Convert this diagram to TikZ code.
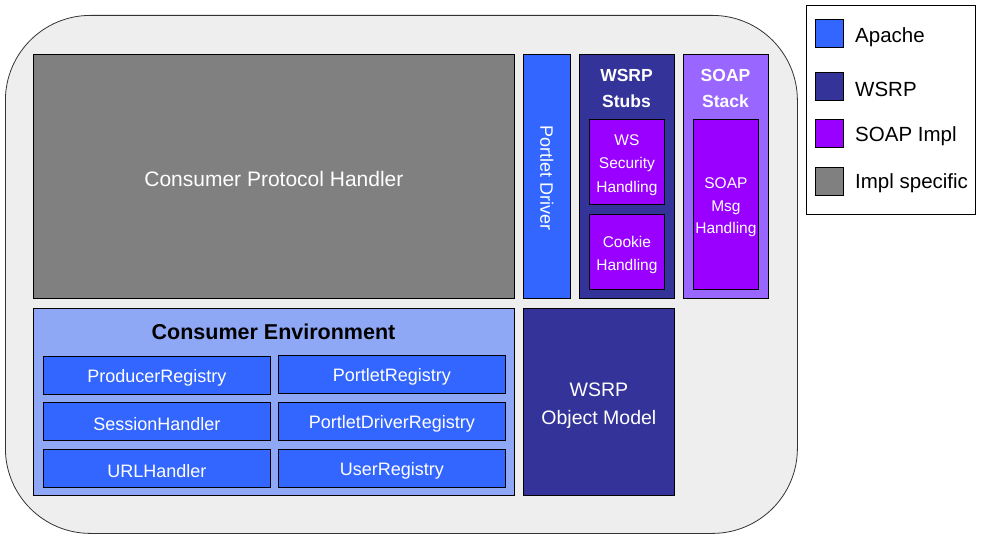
\documentclass[tikz,border=0pt]{standalone}
\usepackage{fontspec}
\setmainfont{Liberation Sans}
\definecolor{apache}{HTML}{3366FF}
\definecolor{wsrp}{HTML}{333399}
\definecolor{soapimpl}{HTML}{9900FF}
\definecolor{soapstack}{HTML}{9966FF}
\definecolor{impl}{HTML}{808080}
\definecolor{envc}{HTML}{8FA8F5}
\definecolor{bgc}{HTML}{EEEEEE}
\begin{document}
\begin{tikzpicture}[x=1pt,y=-1pt,
  box/.style={draw=black, line width=0.8pt, anchor=north west, inner sep=0pt},
  wtext/.style={text=white, align=center, inner sep=0pt},
  lbl/.style={font=\fontsize{20.5}{24}\selectfont, anchor=west, inner sep=0pt}]
\useasboundingbox (0,0) rectangle (982,540);
% outer container
\node[draw=black!80, fill=bgc, line width=0.8pt, rounded corners=85pt, minimum width=792pt, minimum height=518pt, anchor=north west, inner sep=0pt] (outer) at (5,15) {};
% Consumer Protocol Handler
\node[box, fill=impl, minimum width=481pt, minimum height=244pt] (cph) at (33,54) {};
\node[wtext, font=\fontsize{21}{25}\selectfont, yshift=-3pt] (cphl) at (cph.center) {Consumer Protocol Handler};
% Portlet Driver
\node[box, fill=apache, minimum width=47pt, minimum height=244pt] (pd) at (523,54) {};
\node[wtext, rotate=-90, font=\fontsize{18}{21}\selectfont, xshift=2pt] (pdl) at (pd.center) {Portlet Driver};
% WSRP Stubs
\node[box, fill=wsrp, minimum width=95pt, minimum height=244pt] (stubs) at (579,54) {};
\node[wtext, font=\bfseries\fontsize{17.5}{26}\selectfont] (stubsl) at (626.5,88) {WSRP\\Stubs};
\node[box, fill=soapimpl, minimum width=75pt, minimum height=85pt] (wss) at (589,119) {};
\node[wtext, font=\fontsize{15.5}{23.5}\selectfont, yshift=-3pt] (wssl) at (wss.center) {WS\\Security\\Handling};
\node[box, fill=soapimpl, minimum width=75pt, minimum height=75pt] (cookie) at (589,214) {};
\node[wtext, font=\fontsize{15.5}{23}\selectfont, yshift=-3pt] (cookiel) at (cookie.center) {Cookie\\Handling};
% SOAP Stack
\node[box, fill=soapstack, minimum width=85pt, minimum height=244pt] (soap) at (683,54) {};
\node[wtext, font=\bfseries\fontsize{17.5}{26}\selectfont] (soapl) at (725.5,88) {SOAP\\Stack};
\node[box, fill=soapimpl, minimum width=65pt, minimum height=170pt] (msg) at (693,119) {};
\node[wtext, font=\fontsize{15.5}{22.5}\selectfont, yshift=-3pt] (msgl) at (msg.center) {SOAP\\Msg\\Handling};
% Consumer Environment
\node[box, fill=envc, minimum width=481pt, minimum height=187pt] (env) at (33,308) {};
\node[inner sep=0pt, font=\bfseries\fontsize{21.5}{25}\selectfont] (envl) at (273.5,332) {Consumer Environment};
\tikzset{ebox/.style={box, fill=apache, minimum width=227pt, minimum height=38pt},
  etext/.style={wtext, font=\fontsize{18}{21}\selectfont, yshift=-2.5pt}}
\node[ebox] (prodreg) at (43,356) {};
\node[etext] (prodregl) at (prodreg.center) {ProducerRegistry};
\node[ebox] (sessh) at (43,402) {};
\node[etext] (sesshl) at (sessh.center) {SessionHandler};
\node[ebox] (urlh) at (43,449) {};
\node[etext] (urlhl) at (urlh.center) {URLHandler};
\node[ebox] (portreg) at (278,355) {};
\node[etext] (portregl) at (portreg.center) {PortletRegistry};
\node[ebox] (pdreg) at (278,402) {};
\node[etext] (pdregl) at (pdreg.center) {PortletDriverRegistry};
\node[ebox] (userreg) at (278,449) {};
\node[etext] (userregl) at (userreg.center) {UserRegistry};
% WSRP Object Model
\node[box, fill=wsrp, minimum width=151pt, minimum height=187pt] (om) at (523,308) {};
\node[wtext, font=\fontsize{19.5}{28}\selectfont, yshift=-4pt] (oml) at (om.center) {WSRP\\Object Model};
% Legend
\node[draw=black, fill=white, line width=0.8pt, minimum width=169pt, minimum height=209pt, anchor=north west, inner sep=0pt] (legend) at (806,5) {};
\tikzset{sw/.style={draw=black, line width=0.8pt, minimum width=28pt, minimum height=28pt, anchor=north west, inner sep=0pt}}
\node[sw, fill=apache] (s1) at (815,19) {};
\node[sw, fill=wsrp] (s2) at (815,72) {};
\node[sw, fill=soapimpl] (s3) at (815,119) {};
\node[sw, fill=impl] (s4) at (815,167) {};
\node[lbl] (l1) at (855,37) {Apache};
\node[lbl] (l2) at (855,89) {WSRP};
\node[lbl] (l3) at (855,136) {SOAP Impl};
\node[lbl] (l4) at (855,183) {Impl specific};
\end{tikzpicture}
\end{document}
